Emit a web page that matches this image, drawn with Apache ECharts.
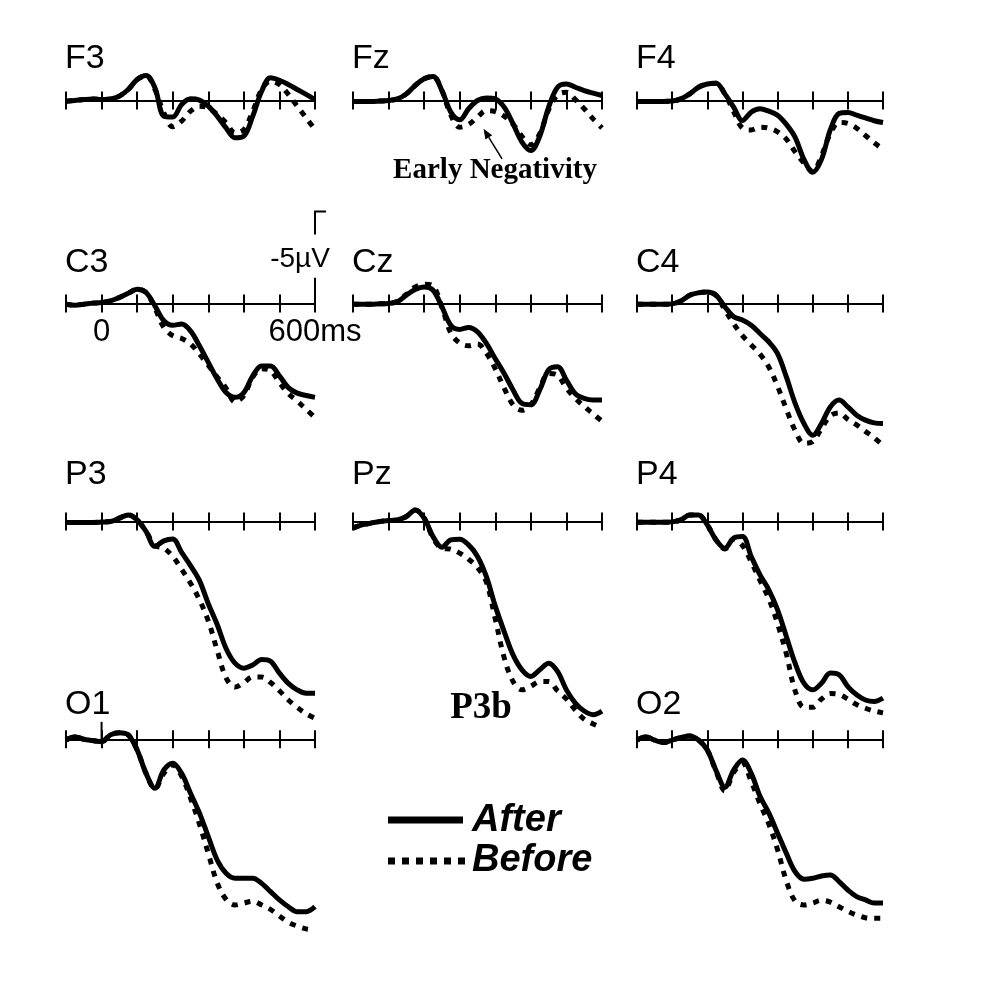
<!DOCTYPE html>
<html>
<head>
<meta charset="utf-8">
<script src="https://cdn.jsdelivr.net/npm/echarts@6/dist/echarts.min.js"></script>
<style>
  html, body { margin: 0; padding: 0; background: #fff; }
  #main { width: 1005px; height: 1000px; }
</style>
</head>
<body>
<div id="main"></div>
<script>
// time points in ms, one value every 25 ms
var times = [-100, -75, -50, -25, 0, 25, 50, 75, 100, 125, 150, 175, 200, 225, 250,
  275, 300, 325, 350, 375, 400, 425, 450, 475, 500, 525, 550, 575, 600];
var tickLabels = { 0: "0", 600: "600ms" };

// amplitudes in µV (negative up), After = solid, Before = dotted
var F3_after  = [0.04, 0, -0.05, -0.08, -0.05, -0.08, -0.24, -0.6, -1.14, -1.36, -0.69, 0.85, 0.9, 0.22, -0.09, -0.02, 0.3, 0.85, 1.49, 2.03, 1.94, 0.85, -0.5, -1.23, -1.1, -0.87, -0.6, -0.33, -0.05];
var F3_before = [0.04, 0, -0.05, -0.08, -0.05, -0.08, -0.24, -0.6, -1.14, -1.36, -0.6, 0.67, 1.43, 1.12, 0.58, 0.31, 0.4, 0.76, 1.21, 1.76, 1.58, 0.58, -0.6, -1.05, -0.87, -0.33, 0.31, 0.94, 1.58];
var Fz_after  = [0.05, 0.05, 0.05, 0.03, 0, -0.09, -0.36, -0.82, -1.18, -1.3, -0.54, 0.63, 1.05, 0.45, 0, -0.14, -0.09, 0.36, 1.27, 2.26, 2.72, 1.94, 0.36, -0.72, -0.9, -0.72, -0.54, -0.4, -0.27];
var Fz_before = [0.05, 0.05, 0.05, 0.03, 0, -0.09, -0.36, -0.82, -1.18, -1.3, -0.54, 0.8, 1.45, 1.3, 0.9, 0.55, 0.6, 0.85, 1.3, 1.95, 2.4, 1.8, 0.5, -0.3, -0.45, -0.05, 0.45, 1.0, 1.49];
var F4_after  = [0.05, 0.05, 0.05, 0.05, 0.03, -0.09, -0.36, -0.72, -0.9, -0.94, -0.36, 0.36, 1.09, 0.63, 0.45, 0.58, 0.8, 1.3, 2.0, 3.2, 3.9, 3.2, 1.6, 0.7, 0.65, 0.8, 0.95, 1.1, 1.2];
var F4_before = [0.05, 0.05, 0.05, 0.05, 0.03, -0.09, -0.36, -0.72, -0.9, -0.94, -0.36, 0.6, 1.5, 1.6, 1.45, 1.5, 1.7, 2.1, 2.8, 3.4, 3.85, 3.0, 1.8, 1.2, 1.25, 1.5, 1.9, 2.3, 2.65];
var C3_after  = [0.04, 0.09, 0.04, -0.02, -0.05, -0.14, -0.33, -0.56, -0.78, -0.6, 0.13, 0.94, 1.18, 1.12, 1.49, 2.3, 3.2, 4.1, 4.84, 5.1, 4.84, 3.93, 3.39, 3.39, 3.93, 4.57, 4.87, 5.0, 5.1];
var C3_before = [0.04, 0.09, 0.04, -0.02, -0.05, -0.14, -0.33, -0.56, -0.78, -0.6, 0.25, 1.3, 1.75, 1.9, 2.2, 2.75, 3.35, 4.0, 4.6, 5.35, 5.0, 4.0, 3.55, 3.65, 4.3, 4.9, 5.3, 5.75, 6.2];
var Cz_after  = [0.04, 0.04, 0.04, 0.02, 0, -0.09, -0.45, -0.76, -0.9, -0.72, 0.18, 1.18, 1.41, 1.3, 1.54, 2.17, 3.0, 3.8, 4.7, 5.43, 5.5, 4.7, 3.6, 3.44, 4.17, 4.9, 5.16, 5.25, 5.25];
var Cz_before = [0.04, 0.04, 0.04, 0.02, 0, -0.12, -0.5, -0.9, -1.05, -0.95, 0.2, 1.6, 2.15, 2.3, 2.2, 2.7, 3.55, 4.6, 5.5, 5.8, 5.5, 4.6, 3.8, 3.9, 4.6, 5.15, 5.6, 6.0, 6.4];
var C4_after  = [0.04, 0.04, 0.04, 0.04, 0.02, -0.14, -0.45, -0.58, -0.63, -0.45, 0.18, 0.72, 0.9, 1.18, 1.63, 2.08, 2.72, 3.99, 5.43, 6.52, 7.16, 6.52, 5.62, 5.25, 5.62, 6.07, 6.34, 6.49, 6.52];
var C4_before = [0.04, 0.04, 0.04, 0.04, 0.02, -0.14, -0.45, -0.58, -0.63, -0.45, 0.35, 1.1, 1.75, 2.25, 2.75, 3.45, 4.5, 5.75, 6.9, 7.6, 7.5, 6.8, 6.1, 5.95, 6.3, 6.6, 6.95, 7.3, 7.7];
var P3_after  = [0.05, 0.05, 0.05, 0.05, 0.03, 0, -0.18, -0.36, -0.09, 0.54, 1.35, 1.05, 0.95, 1.68, 2.4, 3.2, 4.47, 5.6, 6.9, 7.7, 7.97, 7.8, 7.5, 7.6, 8.24, 8.8, 9.15, 9.33, 9.33];
var P3_before = [0.05, 0.05, 0.05, 0.05, 0.03, 0, -0.18, -0.36, -0.09, 0.54, 1.3, 1.45, 1.9, 2.6, 3.35, 4.25, 5.4, 7.0, 8.5, 9.0, 8.75, 8.45, 8.45, 8.75, 9.2, 9.7, 10.1, 10.45, 10.7];
var Pz_after  = [0.36, 0.18, 0.09, 0, -0.05, -0.09, -0.27, -0.63, -0.18, 0.82, 1.4, 1.0, 0.96, 1.27, 1.9, 3.0, 4.6, 5.98, 7.25, 8.06, 8.42, 8.06, 7.7, 8.15, 9.15, 9.87, 10.3, 10.5, 10.3];
var Pz_before = [0.36, 0.18, 0.09, 0, -0.05, -0.09, -0.27, -0.63, -0.18, 0.9, 1.45, 1.5, 1.72, 2.05, 2.5, 3.3, 5.3, 7.4, 8.7, 9.15, 8.95, 8.7, 8.7, 9.2, 9.65, 10.25, 10.75, 11.0, 11.2];
var P4_after  = [0.04, 0.04, 0.04, 0.04, 0.02, -0.09, -0.36, -0.36, 0.18, 1.0, 1.45, 0.9, 0.82, 1.9, 2.9, 3.71, 4.8, 6.25, 7.7, 8.79, 9.15, 8.79, 8.24, 8.33, 8.97, 9.42, 9.7, 9.78, 9.6];
var P4_before = [0.04, 0.04, 0.04, 0.04, 0.02, -0.09, -0.36, -0.36, 0.18, 1.0, 1.5, 0.95, 1.3, 2.2, 3.2, 4.2, 5.55, 7.2, 9.2, 10.1, 10.1, 9.65, 9.35, 9.4, 9.65, 9.95, 10.15, 10.3, 10.4];
var O1_after  = [0.04, -0.14, 0, 0.07, 0.13, -0.24, -0.36, -0.24, 0.58, 1.85, 2.66, 1.67, 1.3, 1.85, 2.93, 4.0, 5.29, 6.56, 7.28, 7.55, 7.55, 7.55, 7.83, 8.28, 8.73, 9.1, 9.37, 9.37, 9.1];
var O1_before = [0.04, -0.14, 0, 0.07, 0.13, -0.24, -0.36, -0.24, 0.58, 1.85, 2.7, 1.85, 1.4, 2.0, 3.2, 4.6, 6.2, 7.8, 8.7, 9.0, 8.9, 8.8, 9.0, 9.25, 9.6, 9.95, 10.15, 10.3, 10.36];
var O2_after  = [0.05, -0.14, 0.05, 0.18, 0.04, -0.1, -0.18, 0.04, 0.58, 1.7, 2.6, 1.67, 1.12, 1.85, 3.1, 4.0, 5.1, 6.2, 7.2, 7.6, 7.55, 7.43, 7.37, 7.73, 8.19, 8.55, 8.73, 8.9, 8.9];
var O2_before = [0.05, -0.14, 0.05, 0.18, 0.04, -0.1, -0.18, 0.04, 0.58, 1.75, 2.8, 1.8, 1.3, 2.3, 3.5, 4.6, 6.0, 7.7, 8.8, 9.0, 8.9, 8.75, 8.85, 9.1, 9.35, 9.55, 9.7, 9.73, 9.73];

var panels = [
  { name: "F3", col: 0, row: 0, after: F3_after, before: F3_before },
  { name: "Fz", col: 1, row: 0, after: Fz_after, before: Fz_before },
  { name: "F4", col: 2, row: 0, after: F4_after, before: F4_before },
  { name: "C3", col: 0, row: 1, after: C3_after, before: C3_before },
  { name: "Cz", col: 1, row: 1, after: Cz_after, before: Cz_before },
  { name: "C4", col: 2, row: 1, after: C4_after, before: C4_before },
  { name: "P3", col: 0, row: 2, after: P3_after, before: P3_before },
  { name: "Pz", col: 1, row: 2, after: Pz_after, before: Pz_before },
  { name: "P4", col: 2, row: 2, after: P4_after, before: P4_before },
  { name: "O1", col: 0, row: 3, after: O1_after, before: O1_before },
  { name: "O2", col: 2, row: 3, after: O2_after, before: O2_before }
];

// layout: each grid runs from -3 µV (top) down to the zero line (bottom);
// the curves are drawn past the bottom edge without clipping
var colLeft = [66, 353, 637];
var colWidth = [249, 249, 246];
var rowAxisY = [100.5, 303.5, 521.5, 739.3];
var titleGap = [41.5, 41, 47, 35];
var pxPerUv = 18.4;
var yTop = -3;
var sans = '"Liberation Sans", Arial, sans-serif';
var serif = '"Liberation Serif", "Times New Roman", serif';

var myChart = echarts.init(document.getElementById("main"));

var grids = [], xAxes = [], yAxes = [], series = [];
panels.forEach(function (p, i) {
  grids.push({
    left: colLeft[p.col],
    top: rowAxisY[p.row] + yTop * pxPerUv,
    width: colWidth[p.col],
    height: -yTop * pxPerUv
  });
  // two x axes on the zero line: ticks down and ticks up
  [false, true].forEach(function (inside) {
    xAxes.push({
      type: "value",
      gridIndex: i,
      min: -100,
      max: 600,
      interval: 100,
      position: "bottom",
      axisLine: { onZero: false, lineStyle: { color: "#000", width: 2 } },
      axisTick: { inside: inside, length: 9, lineStyle: { color: "#000", width: 2 } },
      axisLabel: {
        show: p.name === "C3" && !inside,
        showMinLabel: true,
        showMaxLabel: true,
        margin: 13,
        color: "#000",
        fontSize: 31,
        fontFamily: sans,
        formatter: function (v) {
          return tickLabels[v] || "";
        }
      },
      splitLine: { show: false }
    });
  });
  yAxes.push({ type: "value", gridIndex: i, min: yTop, max: 0, inverse: true, show: false });

  series.push({
    name: "After",
    type: "line",
    xAxisIndex: 2 * i,
    yAxisIndex: i,
    data: times.map(function (t, k) { return [t, p.after[k]]; }),
    smooth: 0.35,
    showSymbol: false,
    clip: false,
    z: 3,
    lineStyle: { color: "#000", width: 5 }
  });
  series.push({
    name: "Before",
    type: "line",
    xAxisIndex: 2 * i,
    yAxisIndex: i,
    data: times.map(function (t, k) { return [t, p.before[k]]; }),
    smooth: 0.35,
    showSymbol: false,
    clip: false,
    z: 2,
    lineStyle: { color: "#000", width: 5, type: [6, 7], cap: "butt" }
  });
});

myChart.setOption({
  animation: false,
  backgroundColor: "#fff",
  grid: grids,
  xAxis: xAxes,
  yAxis: yAxes,
  series: series
});

// annotations, placed through the panels' own scales
function px(name, point) {
  var idx = 0;
  panels.forEach(function (p, i) { if (p.name === name) idx = i * 2; });
  return myChart.convertToPixel({ seriesIndex: idx }, point);
}

var graphics = [];
panels.forEach(function (p) {
  graphics.push({
    type: "text",
    x: colLeft[p.col] - 1,
    y: rowAxisY[p.row] - titleGap[p.row],
    style: { text: p.name, fill: "#000", font: "34px " + sans, align: "left", verticalAlign: "middle" }
  });
});

// -5 µV scale bar in C3
var s0 = px("C3", [600, 0]), s1 = px("C3", [600, -1.4]);
var s2 = px("C3", [600, -3.75]), s3 = px("C3", [600, -5]);
graphics.push({ type: "line", shape: { x1: s0[0], y1: s0[1], x2: s1[0], y2: s1[1] }, style: { stroke: "#000", lineWidth: 2 } });
graphics.push({ type: "polyline", shape: { points: [[s2[0], s2[1]], [s3[0], s3[1]], [s3[0] + 11, s3[1]]] }, style: { stroke: "#000", lineWidth: 2, fill: null } });
var sl = px("C3", [600, -2.4]);
graphics.push({ type: "text", x: sl[0] - 15, y: sl[1], style: { text: "-5µV", fill: "#000", font: "28px " + sans, align: "center", verticalAlign: "middle" } });

// stimulus onset marker in O1
var o0 = px("O1", [0, 0]), o1 = px("O1", [0, -0.95]);
graphics.push({ type: "line", shape: { x1: o0[0], y1: o0[1], x2: o1[0], y2: o1[1] }, style: { stroke: "#000", lineWidth: 2 } });

// Early Negativity arrow in Fz
var tip = px("Fz", [267, 1.54]), tail = px("Fz", [319, 3.17]);
var dx = tip[0] - tail[0], dy = tip[1] - tail[1], len = Math.sqrt(dx * dx + dy * dy);
var ux = dx / len, uy = dy / len;
var hb = [tip[0] - ux * 10, tip[1] - uy * 10];
graphics.push({ type: "line", shape: { x1: tail[0], y1: tail[1], x2: hb[0], y2: hb[1] }, style: { stroke: "#000", lineWidth: 1.5 } });
graphics.push({ type: "polygon", shape: { points: [[tip[0], tip[1]], [hb[0] - uy * 4, hb[1] + ux * 4], [hb[0] + uy * 4, hb[1] - ux * 4]] }, style: { fill: "#000" } });
graphics.push({ type: "text", x: 495, y: 171, style: { text: "Early Negativity", fill: "#000", font: "bold 29px " + serif, align: "center", verticalAlign: "middle" } });

// P3b label
graphics.push({ type: "text", x: 481, y: 708, style: { text: "P3b", fill: "#000", font: "bold 37px " + serif, align: "center", verticalAlign: "middle" } });

// legend
graphics.push({ type: "line", shape: { x1: 388, y1: 820, x2: 463, y2: 820 }, style: { stroke: "#000", lineWidth: 7 } });
graphics.push({ type: "line", shape: { x1: 388, y1: 861, x2: 465, y2: 861 }, style: { stroke: "#000", lineWidth: 7, lineDash: [7, 7] } });
graphics.push({ type: "text", x: 472, y: 821, style: { text: "After", fill: "#000", font: "italic bold 38px " + sans, align: "left", verticalAlign: "middle" } });
graphics.push({ type: "text", x: 472, y: 861, style: { text: "Before", fill: "#000", font: "italic bold 38px " + sans, align: "left", verticalAlign: "middle" } });

myChart.setOption({ graphic: graphics });
</script>
</body>
</html>
